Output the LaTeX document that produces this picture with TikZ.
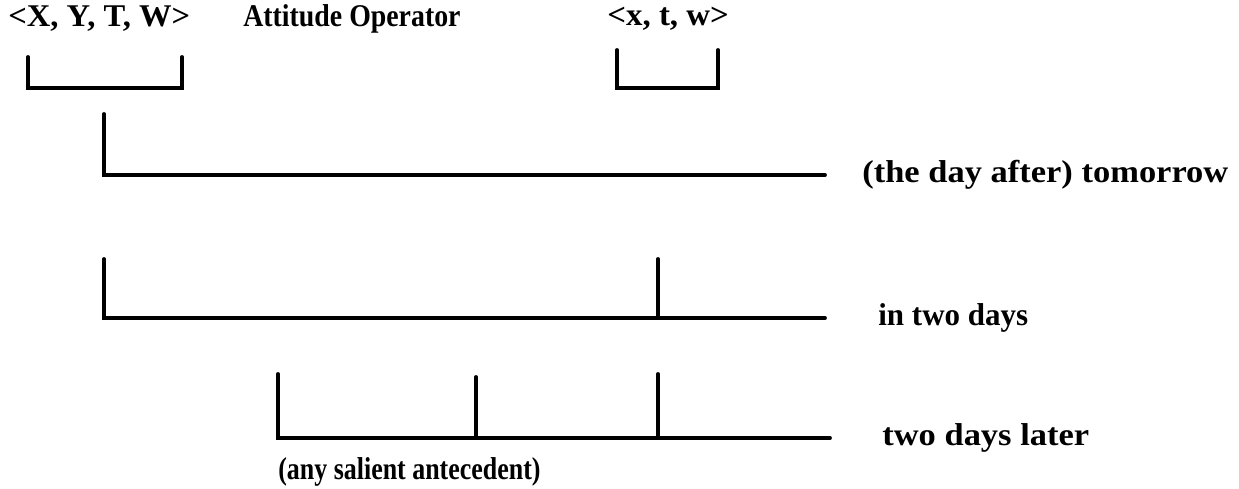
\documentclass[tikz,border=0pt]{standalone}
\usepackage{graphicx}
\usepackage{fontspec}
\setmainfont{Liberation Serif}
\begin{document}
\begin{tikzpicture}[x=0.02cm,y=-0.02cm,
  lbl/.style={font=\fontsize{18}{21}\selectfont\bfseries, inner sep=0pt, anchor=west},
  ln/.style={line width=2.2pt, line cap=round, line join=miter}]
\useasboundingbox (0,0) rectangle (1239,489);
% top labels
\node[lbl] (xytw) at (8,19) {\scalebox{1.03}[1]{<X, Y, T, W>}};
\node[lbl] (att) at (243,19) {\scalebox{0.88}[1]{Attitude Operator}};
\node[lbl] (xtw) at (607,19) {\scalebox{1.04}[1]{<x, t, w>}};
% brackets
\coordinate (b1a) at (28,57); \coordinate (b1b) at (28,88);
\coordinate (b1c) at (182,88); \coordinate (b1d) at (182,57);
\draw[ln] (b1a) -- (b1b) -- (b1c) -- (b1d);
\coordinate (b2a) at (617,50); \coordinate (b2b) at (617,88);
\coordinate (b2c) at (718,88); \coordinate (b2d) at (718,50);
\draw[ln] (b2a) -- (b2b) -- (b2c) -- (b2d);
% line 1
\coordinate (l1t) at (104,114); \coordinate (l1a) at (104,175); \coordinate (l1b) at (825,175);
\draw[ln] (l1t) -- (l1a) -- (l1b);
\node[lbl] (tom) at (862,175) {\scalebox{1.09}[1]{(the day after) tomorrow}};
% line 2
\coordinate (l2t) at (104,259); \coordinate (l2a) at (104,318); \coordinate (l2b) at (825,318);
\coordinate (l2mt) at (658,259); \coordinate (l2m) at (658,318);
\draw[ln] (l2t) -- (l2a) -- (l2b);
\draw[ln] (l2mt) -- (l2m);
\node[lbl] (two) at (878,318) {\scalebox{0.98}[1]{in two days}};
% line 3
\coordinate (l3t) at (278,374); \coordinate (l3a) at (278,438); \coordinate (l3b) at (830,438);
\coordinate (l3mt) at (476,377); \coordinate (l3m) at (476,438);
\coordinate (l3nt) at (658,374); \coordinate (l3n) at (658,438);
\draw[ln] (l3t) -- (l3a) -- (l3b);
\draw[ln] (l3mt) -- (l3m);
\draw[ln] (l3nt) -- (l3n);
\node[lbl] (later) at (882,438) {\scalebox{1.09}[1]{two days later}};
\node[lbl] (ante) at (278,472) {\scalebox{0.82}[1]{(any salient antecedent)}};
\end{tikzpicture}
\end{document}
